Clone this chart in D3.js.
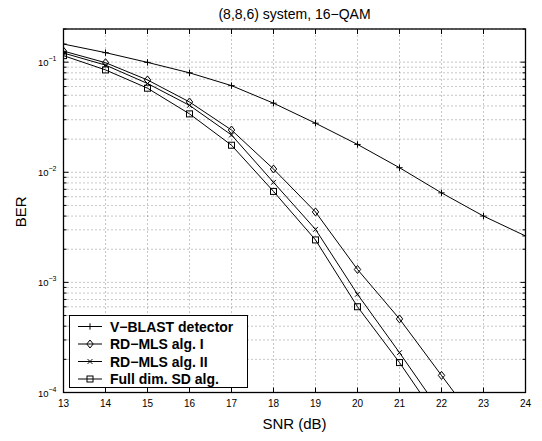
<!DOCTYPE html>
<html>
<head>
<meta charset="utf-8">
<script src="https://cdn.jsdelivr.net/npm/d3@7"></script>
<style>
  body { margin: 0; background: #fff; }
  svg { font-family: "Liberation Sans", Arial, sans-serif; }
  .grid line { stroke: #000; stroke-width: 0.8; stroke-dasharray: 1,3; opacity: 0.55; }
</style>
</head>
<body>
<div id="chart"></div>
<script>
// SNR values (dB)
const snr = [13, 14, 15, 16, 17, 18, 19, 20, 21, 22, 23, 24];
const xTicks = [13, 14, 15, 16, 17, 18, 19, 20, 21, 22, 23, 24];
const yTicks = [1e-4, 1e-3, 1e-2, 1e-1];

// BER per detector
const vblast = [0.146, 0.122, 0.0995, 0.080, 0.0612, 0.0424, 0.0279, 0.0179, 0.0110, 0.0065, 0.0040, 0.00264];
const rdmls1 = [0.126, 0.0989, 0.0689, 0.0435, 0.0242, 0.0107, 0.00436, 0.00131, 0.000466, 0.000143, 0.000044];
const rdmls2 = [0.121, 0.094, 0.064, 0.0405, 0.0218, 0.0081, 0.00303, 0.00078, 0.00023, 0.000065];
const fullsd = [0.1146, 0.085, 0.058, 0.0339, 0.0176, 0.0067, 0.00243, 0.000601, 0.000187, 0.000052];

const series = [
  { name: "V\u2212BLAST detector", values: vblast, marker: "plus" },
  { name: "RD\u2212MLS alg. I", values: rdmls1, marker: "diamond" },
  { name: "RD\u2212MLS alg. II", values: rdmls2, marker: "cross" },
  { name: "Full dim. SD alg.", values: fullsd, marker: "square" }
];

const width = 542, height = 441;
const margin = { top: 29, right: 16.5, bottom: 48.5, left: 63.5 };

const svg = d3.select("#chart").append("svg").attr("width", width).attr("height", height);

const x = d3.scaleLinear().domain([13, 24]).range([margin.left, width - margin.right]);
const y = d3.scaleLog().domain([1e-4, 0.2]).range([height - margin.bottom, margin.top]);

const x0 = x.range()[0], x1 = x.range()[1], y0 = y.range()[0], y1 = y.range()[1];

// minor log positions
const minor = [];
[1e-4, 1e-3, 1e-2, 1e-1].forEach(d => {
  for (let k = 1; k <= 9; k++) {
    const v = d * k;
    if (v >= 1e-4 && v <= 0.2) minor.push(v);
  }
});

// grid
const grid = svg.append("g").attr("class", "grid");
grid.selectAll("line.gx").data(xTicks.slice(1, -1)).enter().append("line")
  .attr("x1", d => x(d)).attr("x2", d => x(d)).attr("y1", y0).attr("y2", y1);
grid.selectAll("line.gy").data(minor.filter(v => v > 1e-4)).enter().append("line")
  .attr("x1", x0).attr("x2", x1).attr("y1", d => y(d)).attr("y2", d => y(d));

// ticks (inward, MATLAB style)
const ticks = svg.append("g").attr("stroke", "#000").attr("stroke-width", 1);
xTicks.forEach(d => {
  ticks.append("line").attr("x1", x(d)).attr("x2", x(d)).attr("y1", y0).attr("y2", y0 - 5);
  ticks.append("line").attr("x1", x(d)).attr("x2", x(d)).attr("y1", y1).attr("y2", y1 + 5);
});
minor.forEach(v => {
  const len = yTicks.indexOf(v) >= 0 ? 5 : 3;
  ticks.append("line").attr("x1", x0).attr("x2", x0 + len).attr("y1", y(v)).attr("y2", y(v));
  ticks.append("line").attr("x1", x1).attr("x2", x1 - len).attr("y1", y(v)).attr("y2", y(v));
});

// tick labels
svg.append("g").selectAll("text").data(xTicks).enter().append("text")
  .attr("x", d => x(d)).attr("y", y0 + 14).attr("text-anchor", "middle")
  .attr("font-size", 10).text(d => d);

const yl = svg.append("g").selectAll("text").data(yTicks).enter().append("text")
  .attr("x", x0 - 7).attr("y", d => y(d) + 4).attr("text-anchor", "end")
  .attr("font-size", 9.5);
yl.append("tspan").text("10");
yl.append("tspan").attr("dy", -5).attr("font-size", 7).text(d => "\u2212" + Math.round(-Math.log10(d)));

// lines
svg.append("clipPath").attr("id", "clip").append("rect")
  .attr("x", x0).attr("y", y1).attr("width", x1 - x0).attr("height", y0 - y1);

const line = d3.line().x((d, i) => x(snr[i])).y(d => y(d));

const plot = svg.append("g").attr("clip-path", "url(#clip)");

function drawMarker(g, type, cx, cy) {
  const s = 3.2;
  if (type === "plus") {
    g.append("path").attr("d", `M${cx - s},${cy}H${cx + s}M${cx},${cy - s}V${cy + s}`);
  } else if (type === "cross") {
    const c = 2.4;
    g.append("path").attr("d", `M${cx - c},${cy - c}L${cx + c},${cy + c}M${cx - c},${cy + c}L${cx + c},${cy - c}`);
  } else if (type === "diamond") {
    const d = 4;
    g.append("path").attr("d", `M${cx},${cy - d}L${cx + d * 0.8},${cy}L${cx},${cy + d}L${cx - d * 0.8},${cy}Z`);
  } else if (type === "square") {
    const q = 3;
    g.append("rect").attr("x", cx - q).attr("y", cy - q).attr("width", 2 * q).attr("height", 2 * q);
  }
}

series.forEach(s => {
  plot.append("path").datum(s.values).attr("d", line)
    .attr("fill", "none").attr("stroke", "#000").attr("stroke-width", 1);
  const mg = plot.append("g").attr("fill", "none").attr("stroke", "#000").attr("stroke-width", 1);
  s.values.forEach((v, i) => {
    if (v >= 1e-4) drawMarker(mg, s.marker, x(snr[i]), y(v));
  });
});

// axes box
svg.append("rect").attr("x", x0).attr("y", y1).attr("width", x1 - x0).attr("height", y0 - y1)
  .attr("fill", "none").attr("stroke", "#000").attr("stroke-width", 1.3);

// legend
const lg = svg.append("g");
lg.append("rect").attr("x", 69.5).attr("y", 315.5).attr("width", 178).attr("height", 72)
  .attr("fill", "#fff").attr("stroke", "#000").attr("stroke-width", 1);
series.forEach((s, i) => {
  const cy = 326.5 + i * 17.5;
  lg.append("line").attr("x1", 78).attr("x2", 102).attr("y1", cy).attr("y2", cy)
    .attr("stroke", "#000").attr("stroke-width", 1);
  const mg = lg.append("g").attr("fill", "none").attr("stroke", "#000").attr("stroke-width", 1);
  drawMarker(mg, s.marker, 90, cy);
  lg.append("text").attr("x", 110).attr("y", cy + 5).attr("font-size", 14)
    .attr("font-weight", "bold").text(s.name);
});

// titles
svg.append("text").attr("x", (x0 + x1) / 2).attr("y", 19).attr("text-anchor", "middle")
  .attr("font-size", 14).text("(8,8,6) system, 16\u2212QAM");
svg.append("text").attr("x", (x0 + x1) / 2).attr("y", 429).attr("text-anchor", "middle")
  .attr("font-size", 15).text("SNR (dB)");
svg.append("text").attr("transform", `translate(25.5,${(y0 + y1) / 2 + 1}) rotate(-90)`)
  .attr("text-anchor", "middle").attr("font-size", 15).text("BER");
</script>
</body>
</html>
